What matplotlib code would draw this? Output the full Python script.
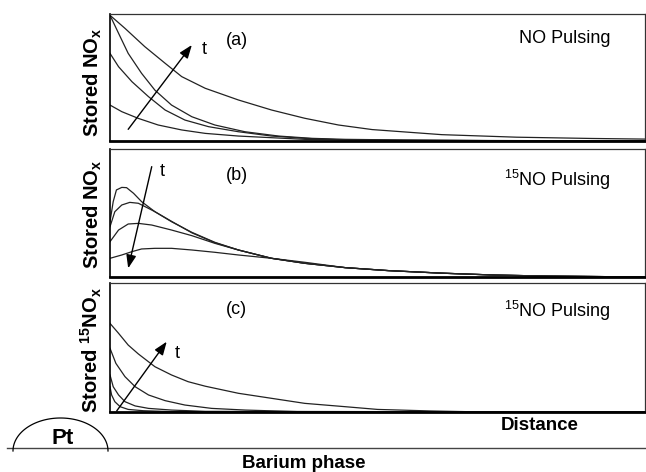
import numpy as np
import matplotlib
matplotlib.use('Agg')
import matplotlib.pyplot as plt

plt.rcParams['font.family'] = ['Liberation Sans', 'DejaVu Sans']
plt.rcParams['mathtext.fontset'] = 'custom'
plt.rcParams['mathtext.rm'] = 'Liberation Sans'
plt.rcParams['mathtext.it'] = 'Liberation Sans:italic'
plt.rcParams['mathtext.bf'] = 'Liberation Sans:bold'

# Panel (a): NO pulsing, stored NOx vs distance (normalised 0..1)
a1_x = [0.0, 0.028, 0.065, 0.103, 0.134, 0.178, 0.240, 0.302, 0.364, 0.427, 0.49, 0.62, 0.76, 0.90, 1.0]
a1_y = [0.99, 0.887, 0.743, 0.612, 0.507, 0.415, 0.323, 0.244, 0.179, 0.126, 0.09, 0.05, 0.03, 0.02, 0.015]
a2_x = [0.0, 0.016, 0.034, 0.059, 0.084, 0.115, 0.153, 0.196, 0.252, 0.315, 0.377, 0.44, 0.55, 0.70, 1.0]
a2_y = [0.99, 0.848, 0.69, 0.533, 0.40, 0.283, 0.191, 0.126, 0.073, 0.039, 0.021, 0.013, 0.008, 0.004, 0.0]
a3_x = [0.0, 0.016, 0.041, 0.072, 0.103, 0.140, 0.184, 0.240, 0.302, 0.364, 0.44, 0.55, 0.70, 1.0]
a3_y = [0.69, 0.585, 0.467, 0.349, 0.244, 0.165, 0.113, 0.073, 0.039, 0.021, 0.008, 0.005, 0.003, 0.0]
a4_x = [0.0, 0.022, 0.053, 0.090, 0.134, 0.178, 0.240, 0.302, 0.364, 0.44, 0.55, 0.70, 1.0]
a4_y = [0.283, 0.231, 0.178, 0.126, 0.087, 0.060, 0.039, 0.026, 0.013, 0.008, 0.005, 0.003, 0.0]

# Panel (b): 15NO pulsing, stored NOx
b1_x = [0.0, 0.006, 0.012, 0.022, 0.031, 0.044, 0.059, 0.084, 0.115, 0.153, 0.196, 0.240, 0.302, 0.364, 0.44, 0.52, 0.62, 0.72, 0.82, 1.0]
b1_y = [0.432, 0.589, 0.68, 0.70, 0.698, 0.654, 0.589, 0.51, 0.432, 0.349, 0.271, 0.211, 0.146, 0.107, 0.073, 0.05, 0.03, 0.015, 0.007, 0.0]
b2_x = [0.0, 0.009, 0.022, 0.037, 0.053, 0.072, 0.084, 0.115, 0.153, 0.196, 0.240, 0.302, 0.364, 0.44, 0.52, 0.62, 0.72, 0.82, 1.0]
b2_y = [0.393, 0.51, 0.5625, 0.583, 0.576, 0.536, 0.51, 0.435, 0.345, 0.268, 0.211, 0.146, 0.107, 0.073, 0.05, 0.03, 0.015, 0.007, 0.0]
b3_x = [0.0, 0.016, 0.034, 0.053, 0.078, 0.115, 0.153, 0.196, 0.240, 0.302, 0.364, 0.44, 0.52, 0.62, 0.72, 0.82, 1.0]
b3_y = [0.276, 0.367, 0.414, 0.419, 0.406, 0.367, 0.323, 0.263, 0.211, 0.146, 0.107, 0.073, 0.05, 0.03, 0.015, 0.007, 0.0]
b4_x = [0.0, 0.022, 0.041, 0.059, 0.084, 0.115, 0.153, 0.196, 0.240, 0.302, 0.364, 0.44, 0.52, 0.62, 0.72, 0.82, 1.0]
b4_y = [0.146, 0.172, 0.198, 0.219, 0.224, 0.224, 0.211, 0.193, 0.172, 0.146, 0.115, 0.073, 0.05, 0.03, 0.015, 0.007, 0.0]

# Panel (c): 15NO pulsing, stored 15NOx
c1_x = [0.0, 0.016, 0.034, 0.053, 0.084, 0.115, 0.146, 0.178, 0.240, 0.302, 0.364, 0.44, 0.50, 0.60, 0.70, 1.0]
c1_y = [0.687, 0.61, 0.519, 0.45, 0.351, 0.287, 0.235, 0.20, 0.145, 0.106, 0.067, 0.041, 0.02, 0.008, 0.0, 0.0]
c2_x = [0.0, 0.011, 0.028, 0.047, 0.072, 0.103, 0.140, 0.190, 0.253, 0.35, 1.0]
c2_y = [0.494, 0.377, 0.274, 0.196, 0.132, 0.088, 0.054, 0.028, 0.015, 0.003, 0.0]
c3_x = [0.0, 0.006, 0.016, 0.028, 0.047, 0.072, 0.115, 0.178, 1.0]
c3_y = [0.287, 0.196, 0.132, 0.080, 0.047, 0.028, 0.015, 0.005, 0.0]
c4_x = [0.0, 0.003, 0.009, 0.019, 0.034, 0.062, 0.115, 1.0]
c4_y = [0.196, 0.132, 0.08, 0.041, 0.02, 0.01, 0.003, 0.0]

panels = [
    dict(curves=[(a1_x, a1_y), (a2_x, a2_y), (a3_x, a3_y), (a4_x, a4_y)],
         label='(a)', title='NO Pulsing', ylabel='Stored NO$_\\mathbf{x}$',
         arrow=((0.034, 0.092), (0.153, 0.756)), tpos=(0.171, 0.717),
         title_y=0.81, ylab_y=0.46),
    dict(curves=[(b1_x, b1_y), (b2_x, b2_y), (b3_x, b3_y), (b4_x, b4_y)],
         label='(b)', title='$^{15}$NO Pulsing', ylabel='Stored NO$_\\mathbf{x}$',
         arrow=((0.078, 0.862), (0.034, 0.068)), tpos=(0.093, 0.823),
         title_y=0.76, ylab_y=0.49),
    dict(curves=[(c1_x, c1_y), (c2_x, c2_y), (c3_x, c3_y), (c4_x, c4_y)],
         label='(c)', title='$^{15}$NO Pulsing', ylabel='Stored $^{\\mathbf{15}}$NO$_\\mathbf{x}$',
         arrow=((0.0125, 0.008), (0.106, 0.545)), tpos=(0.121, 0.455),
         title_y=0.78, ylab_y=0.48),
]

W, H = 646, 472
fig = plt.figure(figsize=(W / 100, H / 100), dpi=100)

rects = [(14, 141), (149, 277), (283, 412)]
for p, (top, bot) in zip(panels, rects):
    ax = fig.add_axes([110 / W, 1 - bot / H, 535 / W, (bot - top) / H])
    for xs, ys in p['curves']:
        ax.plot(xs, ys, color='#222222', lw=0.9)
    ax.set_xlim(0, 1)
    ax.set_ylim(0, 1)
    ax.set_xticks([])
    ax.set_yticks([])
    for s in ['top', 'right']:
        ax.spines[s].set_linewidth(0.9)
        ax.spines[s].set_color('#333333')
    ax.spines['left'].set_linewidth(1.2)
    ax.spines['bottom'].set_linewidth(2.0)
    (x0, y0), (x1, y1) = p['arrow']
    ax.annotate('', xy=(x1, y1), xytext=(x0, y0),
                arrowprops=dict(arrowstyle='-|>,head_length=0.8,head_width=0.3',
                                color='black', lw=1.0, shrinkA=0, shrinkB=0))
    ax.text(p['tpos'][0], p['tpos'][1], 't', fontsize=13, ha='left', va='center')
    ax.text(0.237, 0.795, p['label'], transform=ax.transAxes, fontsize=13,
            ha='center', va='center')
    ax.text(0.935, p['title_y'], p['title'], transform=ax.transAxes, fontsize=13,
            ha='right', va='center')
    ax.set_ylabel(p['ylabel'], fontsize=14.5, fontweight='bold')
    ax.yaxis.set_label_coords(-0.012, p['ylab_y'])

# bottom schematic: Pt particle on the barium phase
ov = fig.add_axes([0, 0, 1, 1], zorder=-1)
ov.set_xlim(0, W)
ov.set_ylim(H, 0)
ov.axis('off')
ov.plot([7, W], [448, 448], color='#444444', lw=1.0)
th = np.linspace(0, np.pi, 100)
ov.plot(60.5 - 47.5 * np.cos(th), 451 - 33 * np.sin(th), color='black', lw=0.9)
ov.text(63, 439, 'Pt', fontsize=16, fontweight='bold', ha='center', va='center')
ov.text(540, 426, 'Distance', fontsize=13.5, fontweight='bold', ha='center', va='center')
ov.text(304, 464, 'Barium phase', fontsize=13.5, fontweight='bold', ha='center', va='center')

fig.savefig('out.png', dpi=100)
